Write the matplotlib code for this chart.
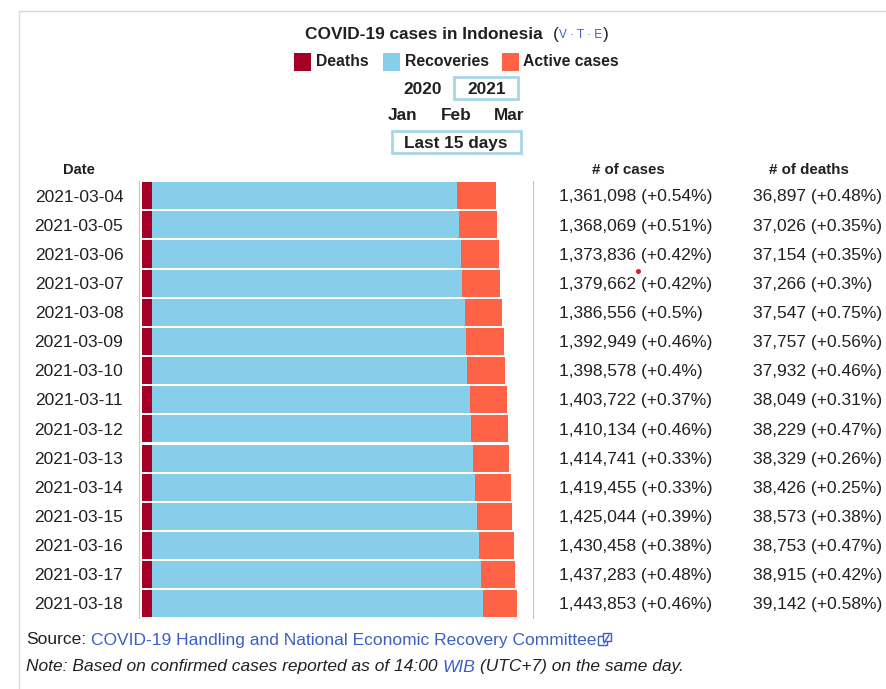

import matplotlib
matplotlib.use("Agg")
import matplotlib.pyplot as plt
from matplotlib.patches import Rectangle

plt.rcParams['font.family'] = ['Liberation Sans', 'DejaVu Sans']

dates = ["2021-03-04","2021-03-05","2021-03-06","2021-03-07","2021-03-08",
         "2021-03-09","2021-03-10","2021-03-11","2021-03-12","2021-03-13",
         "2021-03-14","2021-03-15","2021-03-16","2021-03-17","2021-03-18"]
cases = [1361098,1368069,1373836,1379662,1386556,1392949,1398578,1403722,
         1410134,1414741,1419455,1425044,1430458,1437283,1443853]
deaths = [36897,37026,37154,37266,37547,37757,37932,38049,38229,38329,38426,38573,38753,38915,39142]
recoveries = [1176000,1183500,1190000,1193700,1205000,1211000,1214500,1224800,1228500,1236100,1243700,1251300,1257600,1265200,1272000]
case_pct = ["+0.54%","+0.51%","+0.42%","+0.42%","+0.5%","+0.46%","+0.4%","+0.37%","+0.46%","+0.33%","+0.33%","+0.39%","+0.38%","+0.48%","+0.46%"]
death_pct = ["+0.48%","+0.35%","+0.35%","+0.3%","+0.75%","+0.56%","+0.46%","+0.31%","+0.47%","+0.26%","+0.25%","+0.38%","+0.47%","+0.42%","+0.58%"]

W, H = 886, 689
fig = plt.figure(figsize=(W/100, H/100), dpi=100, facecolor="white")
TXT = "#202122"; LINK = "#3b5fc4"; BOX = "#a8d5e5"
C_D, C_R, C_A = "#a50026", "#87ceeb", "#ff6347"

bg = fig.add_axes([0, 0, 1, 1]); bg.set_xlim(0, W); bg.set_ylim(H, 0); bg.axis("off")
bg.plot([19.5, 19.5, 886], [689, 11, 11], color="#d8d8d8", lw=1.0)

x0, x1 = 142, 517
top, bot = 181.1, 618.4
ax = fig.add_axes([x0/W, 1-bot/H, (x1-x0)/W, (bot-top)/H])
ax.set_xlim(0, cases[-1]); ax.set_ylim(len(dates)-0.5, -0.5); ax.axis("off")
ys = list(range(len(dates)))
active = [c-d-r for c, d, r in zip(cases, deaths, recoveries)]
left2 = [d+r for d, r in zip(deaths, recoveries)]
ax.barh(ys, deaths, height=0.93, color=C_D, clip_on=False)
ax.barh(ys, recoveries, left=deaths, height=0.93, color=C_R, clip_on=False)
ax.barh(ys, active, left=left2, height=0.93, color=C_A, clip_on=False)

bg.plot([139.5, 139.5], [181, 618], color="#c8c8c8", lw=0.9)
bg.plot([533.5, 533.5], [181, 618], color="#c8c8c8", lw=0.9)

FS = 12.5
for i, d in enumerate(dates):
    y = 197 + i*29.14
    bg.text(79, y, d, ha="center", va="center", fontsize=FS, color=TXT)
    bg.text(559, y, f"{cases[i]:,} ({case_pct[i]})", ha="left", va="center", fontsize=FS, color=TXT)
    bg.text(753, y, f"{deaths[i]:,} ({death_pct[i]})", ha="left", va="center", fontsize=FS, color=TXT)

B = dict(ha="center", va="center", fontsize=12.4, color=TXT, fontweight="bold")
bg.text(79, 170.5, "Date", **{**B, "fontsize": 10.6})
bg.text(628, 170.5, "# of cases", **{**B, "fontsize": 10.8})
bg.text(808.5, 170.5, "# of deaths", **{**B, "fontsize": 10.9})

bg.text(423.5, 34.5, "COVID-19 cases in Indonesia", **B)
bg.text(556, 34.5, "(", ha="center", va="center", fontsize=12.4, color=TXT)
bg.text(581, 35, "V · T · E", ha="center", va="center", fontsize=8.5, color=LINK)
bg.text(606, 34.5, ")", ha="center", va="center", fontsize=12.4, color=TXT)

for xs, xe, col, label, tx in [(294.5, 311.5, C_D, "Deaths", 316), (383, 399.7, C_R, "Recoveries", 405), (502, 519.5, C_A, "Active cases", 523)]:
    bg.add_patch(Rectangle((xs, 52.5), xe-xs, 18, fc=col, ec="none"))
    bg.text(tx, 62, label, ha="left", va="center", fontsize=11.3, color=TXT, fontweight="bold")

bg.text(422.5, 89, "2020", **B)
bg.text(486.5, 89, "2021", **B)
bg.add_patch(Rectangle((454.2, 77.3), 64, 21.4, fc="none", ec=BOX, lw=2))
bg.text(403, 116, "Jan", **B); bg.text(456, 116, "Feb", **B); bg.text(509.5, 116, "Mar", **B)
bg.text(456, 143.5, "Last 15 days", **B)
bg.add_patch(Rectangle((391.6, 131.3), 129, 21.7, fc="none", ec=BOX, lw=2))

bg.text(26, 640, "Source:", ha="left", va="center", fontsize=12.5, color=TXT)
bg.text(91, 640, "COVID-19 Handling and National Economic Recovery Committee", ha="left", va="center", fontsize=12.5, color=LINK)
bg.add_patch(Rectangle((598.5, 636), 8.5, 9, fc="none", ec=LINK, lw=1.0))
bg.add_patch(Rectangle((603, 632.5), 8.5, 8.5, fc="white", ec=LINK, lw=1.0))
bg.plot([604, 609], [643, 635], color=LINK, lw=1.0)
bg.text(26, 667, "Note: Based on confirmed cases reported as of 14:00", ha="left", va="center", fontsize=12.5, style="italic", color=TXT)
bg.text(443, 667, "WIB", ha="left", va="center", fontsize=12.5, style="italic", color=LINK)
bg.text(480, 667, "(UTC+7) on the same day.", ha="left", va="center", fontsize=12.5, style="italic", color=TXT)

bg.plot([638.3], [270.5], "o", ms=3.6, color="#ee1525", mec="none")

fig.savefig("out.png", dpi=100, facecolor="white")
